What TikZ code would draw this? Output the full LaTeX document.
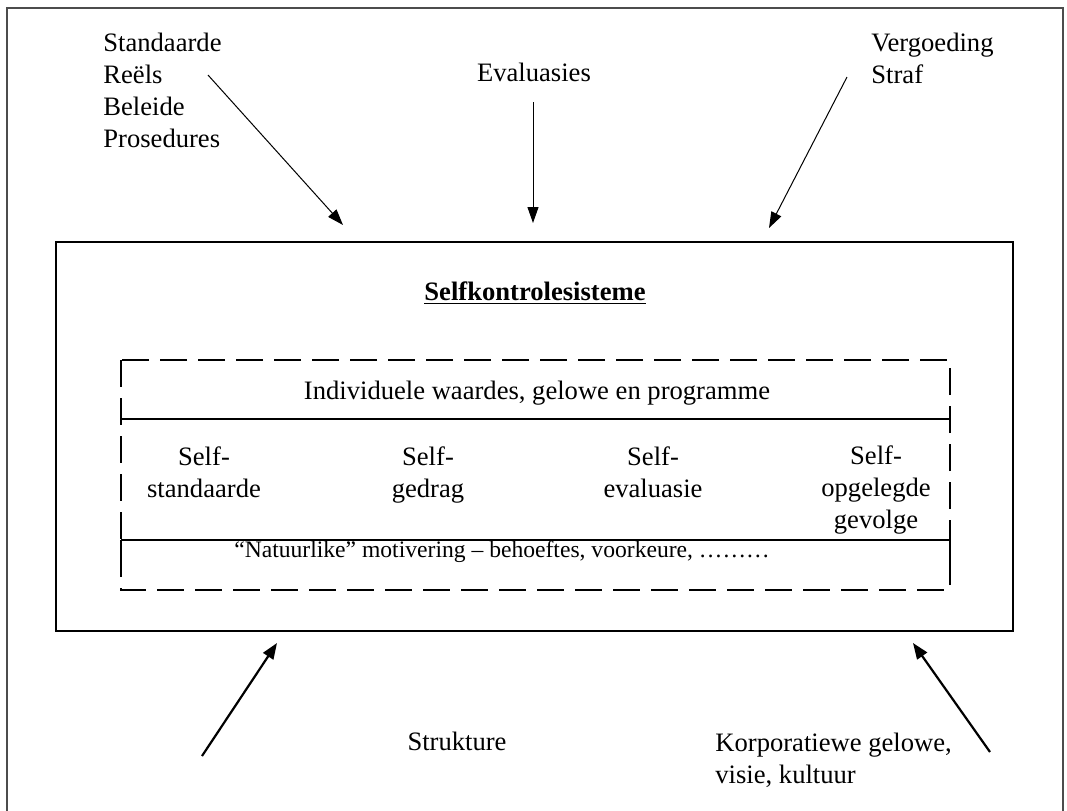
\documentclass[tikz,border=0pt]{standalone}
\usepackage{fontspec}
\setmainfont{Liberation Serif}
\usetikzlibrary{arrows.meta}

\tikzset{
  txt/.style={font=\fontsize{13.3}{16}\selectfont, inner sep=0pt},
  smalltxt/.style={font=\fontsize{11.8}{14}\selectfont, inner sep=0pt},
  thinarrow/.style={line width=0.5pt, -{Triangle[length=8pt,width=5.5pt]}},
  thickarrow/.style={line width=1.1pt, -{Triangle[length=8pt,width=6pt]}},
  dashbox/.style={line width=1pt, dash pattern=on 13.5pt off 5.5pt}
}

\begin{document}
\begin{tikzpicture}[x=0.5pt, y=-0.5pt]
% Selfkontrolesisteme met invloede van buite
\useasboundingbox (0,0) rectangle (1067,810);
\draw[line width=1pt, black!70] (7,815) -- (7,8) -- (1063,8) -- (1063,815);
\draw[line width=0.7pt] (56,242) rectangle (1013,631);
\draw[dashbox] (121,360) rectangle (950,590);
\draw[line width=0.6pt] (121,419) -- (950,419);
\draw[line width=0.6pt] (121,540) -- (950,540);
\draw[line width=1pt] (121,540) -- (121,566);
\draw[line width=1pt] (950,540) -- (950,566);
\node (std) at (103,33) [txt, anchor=north west, align=left] {Standaarde\\Re\"els\\Beleide\\Prosedures};
\node (eval) at (534,81) [txt, anchor=base] {Evaluasies};
\node (verg) at (871,33) [txt, anchor=north west, align=left] {Vergoeding\\Straf};
\node (titel) at (535,300) [txt, anchor=base] {\underline{\textbf{Selfkontrolesisteme}}};
\node (ind) at (537,399) [txt, anchor=base] {Individuele waardes, gelowe en programme};
\node (sstd) at (204,497) [txt, anchor=base, align=center] {Self-\\standaarde};
\node (sged) at (428,497) [txt, anchor=base, align=center] {Self-\\gedrag};
\node (sevl) at (653,497) [txt, anchor=base, align=center] {Self-\\evaluasie};
\node (sgev) at (876,528) [txt, anchor=base, align=center] {Self-\\opgelegde\\gevolge};
\node (nat) at (502,557) [smalltxt, anchor=base] {“Natuurlike” motivering – behoeftes, voorkeure, ………};
\node (struk) at (457,750) [txt, anchor=base] {Strukture};
\node (korp) at (715,733) [txt, anchor=north west, align=left] {Korporatiewe gelowe,\\visie, kultuur};
\coordinate (p1) at (208,75);
\coordinate (q1) at (343,225);
\coordinate (p2) at (533,102);
\coordinate (q2) at (533,223);
\coordinate (p3) at (847,77);
\coordinate (q3) at (769,228);
\coordinate (p4) at (202,756);
\coordinate (q4) at (277,643);
\coordinate (p5) at (990,752);
\coordinate (q5) at (913,643);
\draw[thinarrow] (p1) -- (q1);
\draw[thinarrow] (p2) -- (q2);
\draw[thinarrow] (p3) -- (q3);
\draw[thickarrow] (p4) -- (q4);
\draw[thickarrow] (p5) -- (q5);
\end{tikzpicture}
\end{document}
